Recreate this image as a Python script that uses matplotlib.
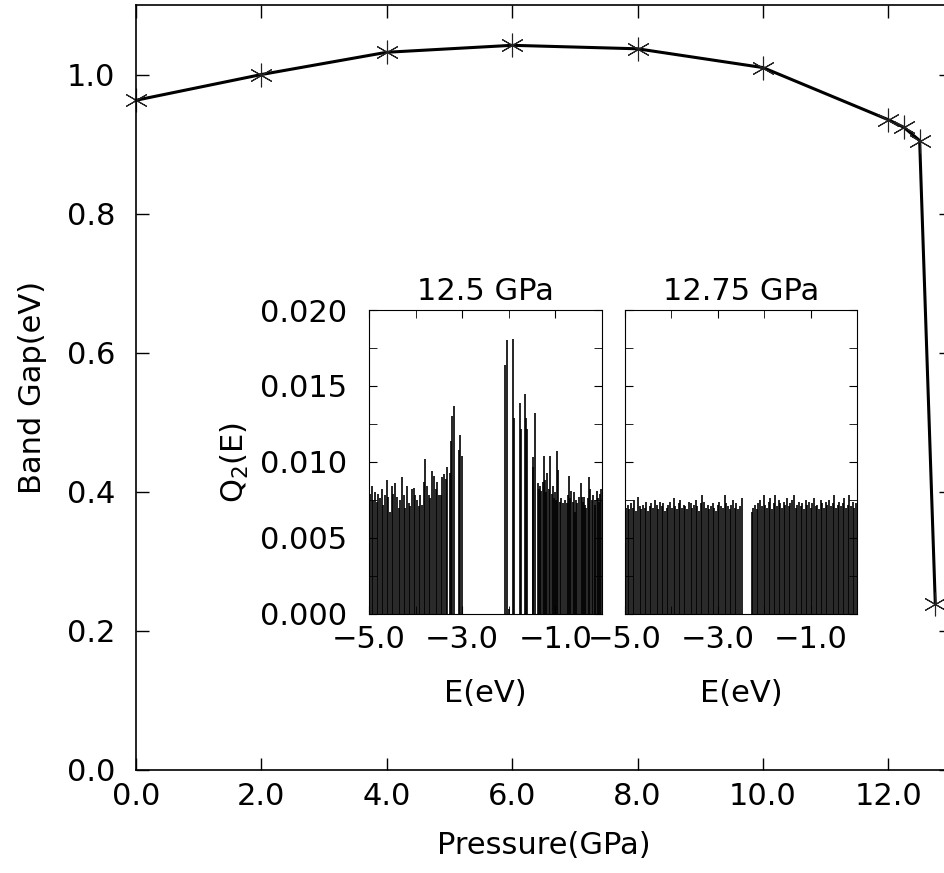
import numpy as np
import matplotlib
matplotlib.use("Agg")
from matplotlib import pyplot as plt
from matplotlib.ticker import MultipleLocator, FuncFormatter

plt.rcParams['font.family'] = ['DejaVu Sans']

# main curve: band gap vs pressure
pressure = [0.0, 2.0, 4.0, 6.0, 8.0, 10.0, 12.0, 12.25, 12.5, 12.75]
band_gap = [0.963, 1.000, 1.032, 1.042, 1.037, 1.010, 0.935, 0.924, 0.905, 0.238]

# inset 12.5 GPa, Q2(E) in units of 1e-3
q_a_low = [7.9, 8.4, 7.5, 8.0, 7.4, 7.9, 7.6, 8.2, 7.2, 7.8, 8.8, 7.7, 6.7, 8.4, 7.9, 8.6,
           7.7, 7.0, 7.5, 9.0, 7.8, 7.0, 8.4, 7.3, 7.1, 8.2, 8.3, 7.8, 7.5, 7.1, 7.8, 7.2,
           8.7, 10.2, 8.4, 7.8, 7.6, 9.4, 9.1, 8.2, 8.7, 7.8, 7.8, 9.0, 9.2, 8.9, 9.7]
e_a_peak = [-3.27, -3.24, -3.21, -3.18, -3.07, -3.05, -3.00]
q_a_peak = [9.3, 11.4, 13.0, 13.7, 10.8, 11.8, 10.4]
e_a_high = [-2.08, -2.03, -2.00, -1.92, -1.88, -1.75, -1.73, -1.66, -1.64, -1.60, -1.49,
            -1.47, -1.44, -1.37, -1.35, -1.33, -1.30, -1.27, -1.25, -1.23, -1.20, -1.17,
            -1.14, -1.12, -1.08, -1.05, -1.03, -1.01, -0.98, -0.96, -0.94, -0.90, -0.87,
            -0.83, -0.80, -0.76, -0.73, -0.71, -0.68, -0.66, -0.63, -0.60, -0.57, -0.55,
            -0.53, -0.50, -0.46, -0.43, -0.41, -0.38, -0.36, -0.34, -0.31, -0.28, -0.25,
            -0.22, -0.19, -0.16, -0.14, -0.11, -0.08, -0.06, -0.04, -0.02]
q_a_high = [16.4, 18.0, 0.3, 18.1, 12.9, 13.9, 12.2, 14.5, 12.9, 12.2, 9.7,
            10.3, 13.2, 8.6, 8.2, 8.4, 8.1, 8.7, 10.4, 8.8, 8.0, 9.3,
            8.2, 10.4, 7.9, 8.4, 7.6, 8.0, 7.5, 10.7, 9.5, 7.4, 7.6,
            7.3, 7.5, 7.3, 7.8, 9.1, 7.6, 8.1, 7.4, 8.0, 6.7, 7.5,
            7.3, 7.7, 8.6, 7.7, 7.4, 7.7, 7.2, 7.0, 7.6, 9.0, 8.2,
            7.5, 7.8, 7.2, 7.5, 8.1, 7.6, 7.4, 7.9, 8.2]

# inset 12.75 GPa, Q2(E) in units of 1e-3
q_b_low = [7.0, 7.2, 6.9, 7.3, 7.0, 7.5, 6.8, 7.7, 7.1, 6.9, 7.2, 7.0, 7.4, 6.8, 7.1, 7.3,
           7.0, 7.5, 7.2, 6.9, 7.4, 7.1, 7.3, 6.8, 7.0, 7.2, 7.4, 7.0, 7.6, 7.1, 6.9, 7.3,
           7.5, 7.0, 7.2, 7.1, 6.9, 7.4, 7.3, 7.0, 7.2, 7.5, 7.1, 6.8, 7.3, 7.8, 7.4, 7.0,
           7.2, 6.9, 7.1, 7.3, 7.0, 6.8, 7.2, 7.4, 7.1, 7.0, 7.8, 7.3, 7.1, 6.9, 7.2, 7.5,
           7.0, 7.3, 6.9, 7.1, 7.6]
q_b_high = [6.7, 7.0, 7.2, 6.9, 7.3, 7.5, 7.1, 7.8, 7.2, 7.0, 7.4, 7.6, 6.9, 7.3, 7.8,
            7.1, 7.5, 7.3, 7.0, 7.4, 7.2, 7.6, 7.1, 7.3, 7.5, 7.8, 7.0, 7.2, 7.4, 7.1,
            7.3, 6.9, 7.5, 7.2, 7.4, 7.0, 7.3, 7.6, 7.1, 7.2, 6.9, 7.5, 7.3, 7.0, 7.4,
            7.2, 7.5, 7.1, 7.3, 7.8, 7.0, 7.2, 7.4, 7.1, 7.3, 7.6, 7.0, 7.2, 7.8, 7.1,
            7.4, 7.0, 7.3]

e_a_low = np.linspace(-4.98, -3.32, len(q_a_low))
e_b_low = np.linspace(-4.98, -2.49, len(q_b_low))
e_b_high = np.linspace(-2.27, -0.02, len(q_b_high))

FS = 22

fig = plt.figure(figsize=(9.44, 8.73), dpi=100)

ax = fig.add_axes([0.1441, 0.1180, 0.8633, 0.8763])
ax.plot(pressure, band_gap, color='black', lw=2.2, marker=(6, 2, 0),
        markersize=17, markeredgewidth=0.8, markeredgecolor='#222222', clip_on=False)
ax.set_xlim(0, 13)
ax.set_ylim(0, 1.1)
ax.xaxis.set_major_locator(MultipleLocator(2))
ax.yaxis.set_major_locator(MultipleLocator(0.2))
ax.xaxis.set_major_formatter(FuncFormatter(lambda v, p: '%.1f' % v))
ax.yaxis.set_major_formatter(FuncFormatter(lambda v, p: '%.1f' % v))
ax.tick_params(direction='in', top=True, right=True, length=9, width=1, labelsize=FS)
ax.tick_params(axis='y', pad=15)
ax.tick_params(axis='x', pad=9)
ax.set_xlabel('Pressure(GPa)', fontsize=FS, labelpad=14)
ax.set_ylabel('Band Gap(eV)', fontsize=FS, labelpad=14)
for s in ax.spines.values():
    s.set_linewidth(1.2)


def minus(v, p):
    return ('%.1f' % v).replace('-', '\u2212')


def inset(rect, title):
    a = fig.add_axes(rect)
    a.set_xlim(-5, 0)
    a.set_ylim(0, 0.020)
    a.xaxis.set_minor_locator(MultipleLocator(1))
    a.yaxis.set_major_locator(MultipleLocator(0.005))
    a.yaxis.set_minor_locator(MultipleLocator(0.0025))
    a.set_xticks([-5, -3, -1])
    a.xaxis.set_major_formatter(FuncFormatter(minus))
    a.tick_params(which='both', direction='in', top=True, right=True, length=6,
                  labelsize=FS)
    a.tick_params(axis='y', which='both', pad=16)
    a.tick_params(axis='x', which='both', pad=8)
    a.set_xlabel('E(eV)', fontsize=FS, labelpad=18)
    a.set_title(title, fontsize=FS, pad=7)
    return a


ax1 = inset([0.3909, 0.2967, 0.2468, 0.3482], '12.5 GPa')
ax1.vlines(e_a_low, 0, np.array(q_a_low) * 1e-3, color='black', lw=1.2)
ax1.vlines(e_a_peak, 0, np.array(q_a_peak) * 1e-3, color='black', lw=1.2)
ax1.vlines(e_a_high, 0, np.array(q_a_high) * 1e-3, color='black', lw=1.2)
ax1.yaxis.set_major_formatter(FuncFormatter(lambda v, p: '%.3f' % v))
ax1.set_ylabel('Q$_2$(E)', fontsize=FS, labelpad=6)

ax2 = inset([0.6621, 0.2967, 0.2458, 0.3482], '12.75 GPa')
ax2.vlines(e_b_low, 0, np.array(q_b_low) * 1e-3, color='black', lw=1.2)
ax2.vlines(e_b_high, 0, np.array(q_b_high) * 1e-3, color='black', lw=1.2)
ax2.set_yticklabels([])

fig.savefig('out.png', dpi=100)
